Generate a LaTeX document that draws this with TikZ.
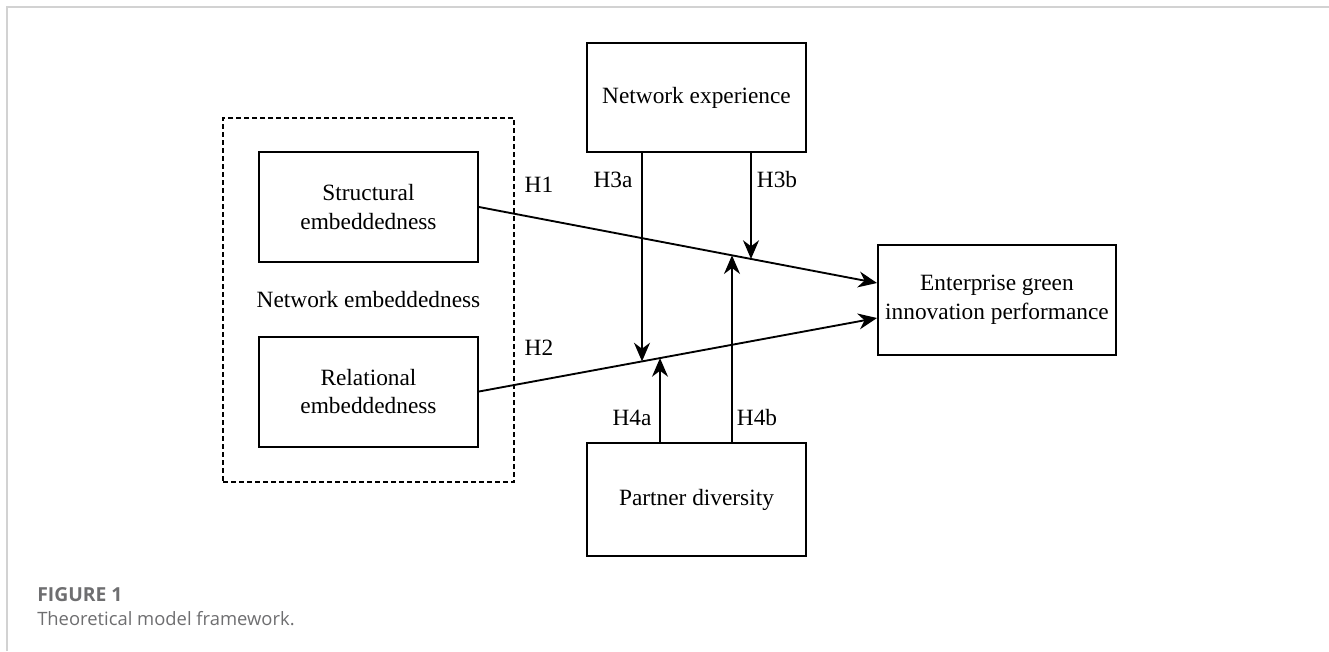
\documentclass[tikz,border=0pt]{standalone}
\usepackage{fontspec}
\setmainfont{Liberation Serif}
\newfontfamily\capfont{Open Sans}
\usetikzlibrary{calc,intersections,arrows.meta}
\definecolor{capgray}{RGB}{110,110,112}
\definecolor{framegray}{RGB}{210,210,210}
\tikzset{
  box/.style={draw,line width=1.5pt,align=center,inner sep=0pt,
    minimum width=164.25pt,minimum height=82.5pt,
    font=\fontsize{17.5}{21.5}\selectfont},
  lab/.style={font=\fontsize{17.5}{21.5}\selectfont},
  arr/.style={line width=1.4pt,-{Stealth[length=14pt,width=12pt,inset=4.5pt]}}
}

\begin{document}
\begin{tikzpicture}[x=0.75pt,y=-0.75pt]
\useasboundingbox (0,0) rectangle (1329,651);
\draw[line width=1.5pt,framegray] (7,651) -- (7,7) -- (1329,7);
% boxes
\node[box,dashed,dash pattern=on 3.5pt off 2.5pt,minimum width=218.25pt,minimum height=273pt] (emb) at (368.5,300) {Network embeddedness};
\node[box] (se) at (368.5,207) {Structural\\embeddedness};
\node[box] (re) at (368.5,391.5) {Relational\\embeddedness};
\node[box,minimum height=81.75pt] (ne) at (696.5,97.5) {Network experience};
\node[box,minimum height=84.75pt] (pd) at (696.5,499.5) {Partner diversity};
\node[box,minimum width=178.5pt] (eg) at (997,300) {Enterprise green\\innovation performance};
% main effects
\coordinate (t1) at ($(eg.west)+(0,-17)$);
\coordinate (t2) at ($(eg.west)+(0,18)$);
\draw[arr,name path=h1] (se.east) -- (t1);
\draw[arr,name path=h2] (re.east) -- (t2);
% moderators
\coordinate (s3a) at ($(ne.south)+(-54.5,0)$);
\coordinate (s3b) at ($(ne.south)+(54.5,0)$);
\coordinate (s4a) at ($(pd.north)+(-36.5,0)$);
\coordinate (s4b) at ($(pd.north)+(35.5,0)$);
\path[name path=v3a] (s3a) -- ++(0,400);
\path[name path=v3b] (s3b) -- ++(0,400);
\path[name path=v4a] (s4a) -- ++(0,-400);
\path[name path=v4b] (s4b) -- ++(0,-400);
\path[name intersections={of=v3a and h2}] (intersection-1) coordinate (m3a);
\path[name intersections={of=v3b and h1}] (intersection-1) coordinate (m3b);
\path[name intersections={of=v4a and h2}] (intersection-1) coordinate (m4a);
\path[name intersections={of=v4b and h1}] (intersection-1) coordinate (m4b);
\draw[arr] (s3a) -- (m3a);
\draw[arr] (s3b) -- (m3b);
\draw[arr] (s4a) -- (m4a);
\draw[arr] (s4b) -- (m4b);
% labels
\node[lab] (l1) at (539,185) {H1};
\node[lab] (l2) at (539,348) {H2};
\node[lab] (l3a) at (613,180) {H3a};
\node[lab] (l3b) at (777,180) {H3b};
\node[lab] (l4a) at (632,418) {H4a};
\node[lab] (l4b) at (757,418) {H4b};
% caption
\node[anchor=base west,inner sep=0pt,text=capgray,font=\capfont\bfseries\fontsize{14.5}{16}\selectfont] (fig) at (37,601) {FIGURE 1};
\node[anchor=base west,inner sep=0pt,text=capgray,font=\capfont\fontsize{13.8}{16}\selectfont] (cap) at (37,625) {Theoretical model framework.};
\end{tikzpicture}
\end{document}
